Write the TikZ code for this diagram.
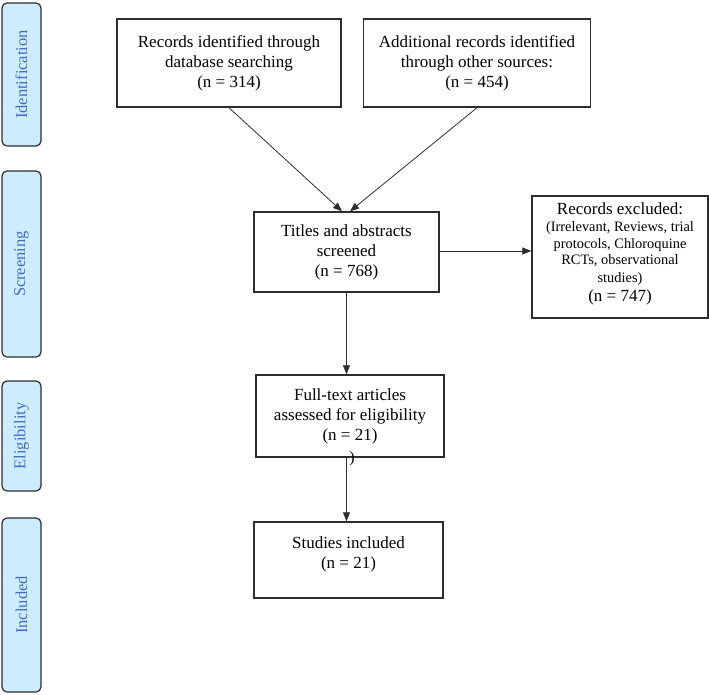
\documentclass[tikz,border=0pt]{standalone}
\usepackage{fontspec}
\setmainfont{Liberation Serif}
\usetikzlibrary{arrows.meta,calc}
\definecolor{sidefill}{RGB}{206,236,255}
\definecolor{sidetext}{RGB}{68,108,190}
\definecolor{boxline}{RGB}{45,45,45}
\newcommand\bigtxt{\fontsize{17}{20}\selectfont}
\newcommand\smtxt{\fontsize{14.4}{17}\selectfont}
\begin{document}
\begin{tikzpicture}[x=1pt,y=-1pt,
  mainbox/.style={draw=boxline,line width=1.4pt,rectangle,align=center,inner sep=2pt,
    font=\bigtxt},
  sidebox/.style={draw=boxline,line width=1.2pt,fill=sidefill,rounded corners=5pt,
    minimum width=39pt},
  sidelabel/.style={text=sidetext,rotate=90,font=\fontsize{16.5}{20}\selectfont},
  arr/.style={draw=boxline,line width=0.8pt,-{Triangle[length=9pt,width=7pt]}}]
\useasboundingbox (0,0) rectangle (709,694);

% side phase boxes
\node[sidebox,minimum height=143pt] (sid) at (21.5,74.5) {};
\node[sidelabel] (lid) at (sid.center) {Identification};
\node[sidebox,minimum height=186pt] (ssc) at (21.5,264) {};
\node[sidelabel] (lsc) at (ssc.center) {Screening};
\node[sidebox,minimum height=110pt] (sel) at (21.5,436) {};
\node[sidelabel] (lel) at (sel.center) {Eligibility};
\node[sidebox,minimum height=174pt] (sin) at (21.5,605) {};
\node[sidelabel] (lin) at (sin.center) {Included};

% main boxes
\node[mainbox,minimum width=224pt,minimum height=88pt] (db) at (229,63)
  {Records identified through\\database searching\\(n = 314)};
\node[mainbox,minimum width=227pt,minimum height=88pt] (other) at (477,63)
  {Additional records identified\\through other sources:\\(n = 454)};
\node[mainbox,minimum width=185pt,minimum height=80pt] (screen) at (346.5,252)
  {Titles and abstracts\\screened\\(n = 768)};
\node[mainbox,minimum width=176pt,minimum height=122pt] (excl) at (620,257) {};
\node[align=center,font=\bigtxt,inner sep=0pt] (excltext) at (620,254)
  {\bigtxt Records excluded:\\[-3pt]
   \smtxt (Irrelevant, Reviews, trial\\[-3.5pt]
   \smtxt protocols, Chloroquine\\[-3.5pt]
   \smtxt RCTs, observational\\[-2.5pt]
   \smtxt studies)\\[-1pt]
   \bigtxt (n = 747)};
\node[mainbox,minimum width=188pt,minimum height=82pt] (full) at (350,416)
  {Full-text articles\\assessed for eligibility\\(n = 21)};
\node[font=\fontsize{16}{20}\selectfont,inner sep=0pt] (paren) at (352,459) {)};
\node[mainbox,minimum width=189pt,minimum height=76pt,text depth=14pt] (incl) at (348.5,560)
  {Studies included\\(n = 21)};

% connectors
\coordinate (inL) at ($(screen.north)+(-4.5,0)$);
\coordinate (inR) at ($(screen.north)+(3.5,0)$);
\draw[arr] (db.south) -- (inL);
\draw[arr] (other.south) -- (inR);
\draw[arr] (screen.east |- 0,251) -- (excl.west |- 0,251);
\draw[arr] (screen.south) -- (screen.south |- full.north);
\draw[arr] (full.south -| screen.south) -- (screen.south |- incl.north);
\end{tikzpicture}
\end{document}
